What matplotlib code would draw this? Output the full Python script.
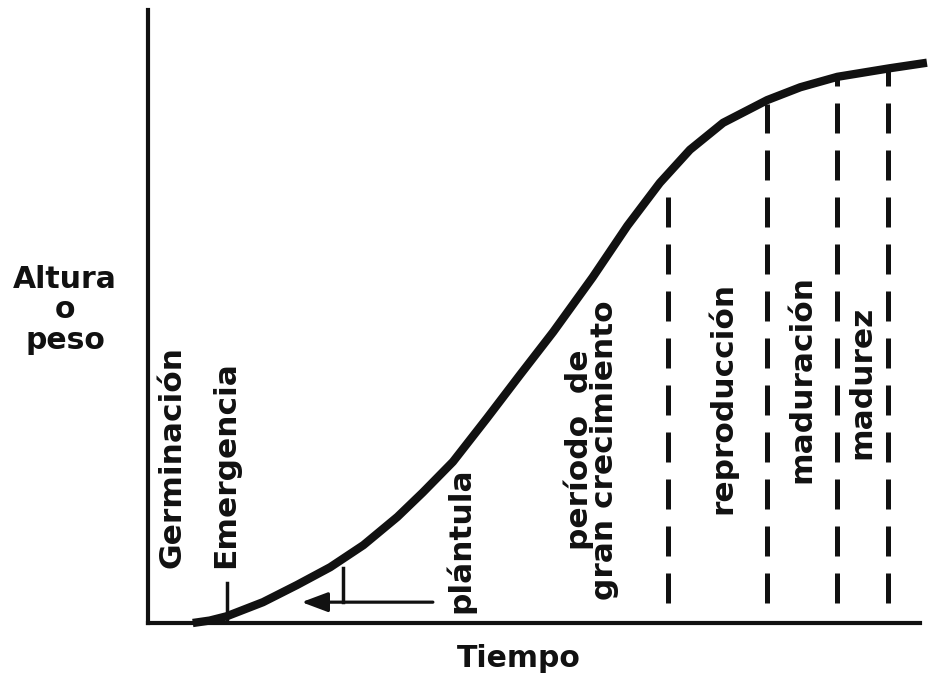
import matplotlib
matplotlib.use("Agg")
import matplotlib.pyplot as plt

# growth curve (tiempo 0-100, altura 0-100)
tiempo = [5.8, 8.0, 10.2, 14.9, 19.3, 23.6, 27.9, 32.3, 35.6, 39.5, 43.9, 48.2,
          52.5, 57.6, 62.1, 66.3, 70.2, 74.5, 80.2, 84.5, 89.3, 96.1, 100.9]
altura = [0.0, 0.4, 1.1, 3.4, 6.2, 9.1, 12.7, 17.3, 21.3, 26.3, 33.4, 40.5,
          47.5, 56.4, 64.8, 71.8, 77.2, 81.6, 85.3, 87.4, 89.1, 90.5, 91.4]

# dashed stage boundaries: position, bottom, top
limites_x = [67.4, 80.2, 89.2, 95.9]
limites_y0 = [3.3, 3.3, 3.3, 3.3]
limites_y1 = [71.1, 84.6, 88.9, 90.3]

# stage labels (vertical)
etapas = ["Germinación", "Emergencia", "plántula", "período  de\ngran crecimiento",
          "reproducción", "maduración", "madurez"]
etapas_x = [3.1, 10.1, 40.4, 57.4, 74.4, 84.7, 92.5]
etapas_y = [27.1, 25.9, 13.5, 28.2, 36.7, 39.8, 39.2]

ink = "#111111"
plt.rcParams["font.family"] = ["DejaVu Sans"]
plt.rcParams["font.weight"] = "bold"

fig = plt.figure(figsize=(9.29, 6.76), dpi=100)
ax = fig.add_axes([148 / 929, 53 / 676, 772 / 929, 613 / 676])
ax.set_xlim(0, 100)
ax.set_ylim(0, 100)
for s in ["top", "right"]:
    ax.spines[s].set_visible(False)
for s in ["left", "bottom"]:
    ax.spines[s].set_linewidth(3)
    ax.spines[s].set_color(ink)
ax.set_xticks([])
ax.set_yticks([])

ax.plot(tiempo, altura, color=ink, lw=6, solid_capstyle="butt",
        solid_joinstyle="round", clip_on=False)

for x, y0, y1 in zip(limites_x, limites_y0, limites_y1):
    ax.plot([x, x], [y0, y1], color=ink, lw=3.6, dashes=(6, 3.4))

# emergence tick and seedling arrow
ax.plot([10.2, 10.2], [0, 6.5], color=ink, lw=2.5)
ax.plot([25.3, 25.3], [3.4, 9.0], color=ink, lw=2.5)
ax.annotate("", xy=(19.9, 3.4), xytext=(36.9, 3.4),
            arrowprops=dict(arrowstyle="-|>,head_length=0.8,head_width=0.3",
                            mutation_scale=20, lw=2.3, color=ink,
                            shrinkA=0, shrinkB=0))

for lab, x, y in zip(etapas, etapas_x, etapas_y):
    ax.text(x, y, lab, rotation=90, ha="center", va="center",
            fontsize=22.5, color=ink, linespacing=0.8,
            multialignment="center")

fig.text(65 / 929, 1 - 310 / 676, "Altura\no\npeso", ha="center", va="center",
         fontsize=21.5, color=ink, linespacing=1.05)
fig.text(519 / 929, 1 - 667 / 676, "Tiempo", ha="center", va="baseline",
         fontsize=21.5, color=ink)

fig.savefig("out.png", dpi=100)
